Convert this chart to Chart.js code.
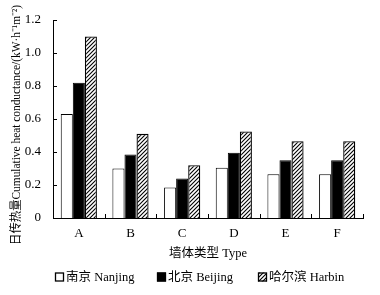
<!DOCTYPE html>
<html><head><meta charset="utf-8">
<script src="https://cdn.jsdelivr.net/npm/chart.js@4"></script>
<style>html,body{margin:0;padding:0;background:#fff}#w{width:380px;height:295px}</style>
</head><body><div id="w"><canvas id="c" width="380" height="295"></canvas></div>
<script>
const categories = ['A','B','C','D','E','F'];
const nanjing = [0.63, 0.30, 0.185, 0.305, 0.265, 0.265];
const beijing = [0.82, 0.385, 0.24, 0.395, 0.35, 0.35];
const harbin = [1.10, 0.51, 0.32, 0.525, 0.465, 0.465];
const seriesNames = ['南京 Nanjing','北京 Beijing','哈尔滨 Harbin'];
const yTicks = [0, 0.2, 0.4, 0.6, 0.8, 1.0, 1.2];
const yTitle = '日传热量Cumulative heat conductance/(kW·h⁻¹m⁻²)';

function hatch(){
  const s=4, cv=document.createElement('canvas'); cv.width=s; cv.height=s;
  const g=cv.getContext('2d'); g.fillStyle='#fff'; g.fillRect(0,0,s,s);
  g.strokeStyle='#000'; g.lineWidth=1.1;
  g.beginPath();
  g.moveTo(-1,s+1); g.lineTo(s+1,-1);
  g.moveTo(-1,1); g.lineTo(1,-1);
  g.moveTo(s-1,s+1); g.lineTo(s+1,s-1);
  g.stroke();
  return g.createPattern(cv,'repeat');
}
const pat = hatch();
const SERIF = '"Liberation Serif","Times New Roman","Noto Sans CJK SC",serif';

const tickPlugin = {
  id:'ticks',
  afterDraw(chart){
    const ctx=chart.ctx, x=chart.scales.x, y=chart.scales.y;
    ctx.save(); ctx.strokeStyle='#000'; ctx.lineWidth=1;
    yTicks.forEach(v=>{const py=Math.round(y.getPixelForValue(v))+0.5;
      ctx.beginPath(); ctx.moveTo(x.left,py); ctx.lineTo(x.left+4,py); ctx.stroke();});
    for(let i=0;i<=categories.length;i++){
      const px=Math.round(x.getPixelForValue(i-0.5))+0.5;
      ctx.beginPath(); ctx.moveTo(px,y.bottom); ctx.lineTo(px,y.bottom-4); ctx.stroke();
    }
    // legend
    const lx=[55,157,258], ly=277;
    ctx.font='12.5px '+SERIF; ctx.textBaseline='middle'; ctx.textAlign='left';
    chart.data.datasets.forEach((ds,i)=>{
      ctx.fillStyle=ds.backgroundColor; ctx.fillRect(lx[i],ly-4.5,9,9);
      ctx.strokeStyle='#000'; ctx.lineWidth=1.3; ctx.strokeRect(lx[i]+0.5,ly-4,8,8);
      ctx.fillStyle='#000'; ctx.fillText(ds.label,lx[i]+11,ly+0.5);
    });
    // y title
    ctx.translate(16.5,125); ctx.rotate(-Math.PI/2);
    ctx.fillStyle='#000'; ctx.textAlign='center'; ctx.textBaseline='middle';
    ctx.font='12px '+SERIF;
    const w=ctx.measureText(yTitle).width;
    const sc=Math.min(1,240/w);
    ctx.scale(sc,1);
    ctx.fillText(yTitle,0,0);
    ctx.restore();
  }
};

new Chart(document.getElementById('c'),{
  type:'bar',
  data:{labels:categories,datasets:[
    {label:seriesNames[0],data:nanjing,backgroundColor:'#fff',borderColor:'#000',borderWidth:1},
    {label:seriesNames[1],data:beijing,backgroundColor:'#000',borderColor:'#000',borderWidth:1},
    {label:seriesNames[2],data:harbin,backgroundColor:pat,borderColor:'#000',borderWidth:1.3}
  ]},
  options:{
    responsive:false,animation:false,devicePixelRatio:1,
    layout:{padding:{top:20,right:17,left:13,bottom:32}},
    datasets:{bar:{categoryPercentage:0.7,barPercentage:1}},
    plugins:{tooltip:{enabled:false},legend:{display:false}},
    scales:{
      x:{grid:{display:false},border:{color:'#000',width:1},
        ticks:{color:'#000',font:{family:SERIF,size:13},padding:0},
        afterFit(s){s.height=45;},
        title:{display:true,text:'墙体类型 Type',color:'#000',font:{family:SERIF,size:12.5},padding:{top:4,bottom:2}}},
      y:{min:0,max:1.2,grid:{display:false},border:{color:'#000',width:1},
        afterBuildTicks(s){s.ticks=yTicks.map(v=>({value:v}));},
        afterFit(s){s.width=40;},
        ticks:{color:'#000',font:{family:SERIF,size:13},padding:4,
          callback:v=>v===0?'0':v.toFixed(1)},
        title:{display:false}}
    }
  },
  plugins:[tickPlugin]
});
</script></body></html>
